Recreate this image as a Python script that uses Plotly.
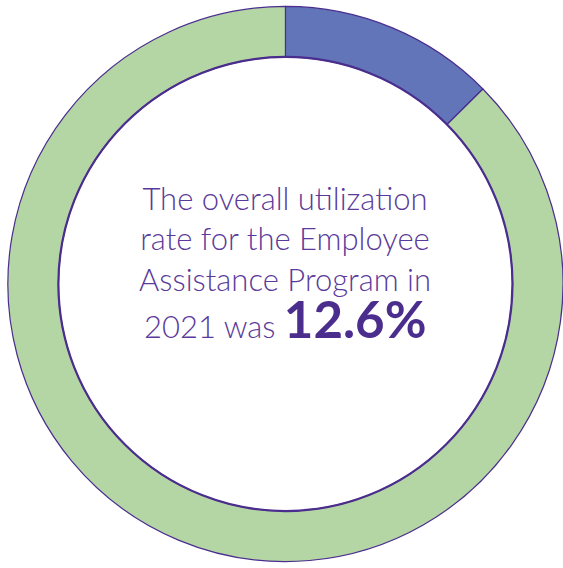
import plotly.graph_objects as go

# Employee Assistance Program utilization, 2021 (percent)
labels = ["Utilized EAP", "Did not utilize EAP"]
utilization_rate = 12.6
values = [utilization_rate, round(100 - utilization_rate, 1)]
colors = ["#6175B8", "#B4D5A4"]
center_lines = [
    "The overall utilization",
    "rate for the Employee",
    "Assistance Program in",
    "2021 was",
]

W, H = 563, 568
outline = "#4B2D8E"
text_color = "#5A3A9A"

dom_x = [0.014, 1.0]
dom_y = [0.0, 1.0]
hole = 0.818

fig = go.Figure(
    go.Pie(
        labels=labels,
        values=values,
        hole=hole,
        sort=False,
        direction="clockwise",
        rotation=0,
        marker=dict(colors=colors, line=dict(color=outline, width=1.2)),
        textinfo="none",
        hoverinfo="label+percent",
        showlegend=False,
        domain=dict(x=dom_x, y=dom_y),
    )
)

# heavier ring around the hole, derived from the pie's own geometry
w_px = (dom_x[1] - dom_x[0]) * W
h_px = (dom_y[1] - dom_y[0]) * H
r_out = min(w_px, h_px) / 2
cx = (dom_x[0] + dom_x[1]) / 2 * W
cy = (1 - (dom_y[0] + dom_y[1]) / 2) * H
r_in = r_out * hole
fig.add_shape(
    type="circle", xref="paper", yref="paper",
    x0=(cx - r_in) / W, x1=(cx + r_in) / W,
    y0=1 - (cy + r_in) / H, y1=1 - (cy - r_in) / H,
    line=dict(color=outline, width=2.2), layer="above",
)

body_font = dict(family="Lato", size=31, color=text_color, weight=300)

# descriptive sentence, then the headline figure on its own line
fig.add_annotation(
    text="<br>".join(center_lines[:-1]),
    x=cx / W, y=1 - 238 / H, xref="paper", yref="paper",
    showarrow=False, xanchor="center", yanchor="middle", align="center",
    font=body_font,
)
big = f"<b><span style='font-size:51px;color:#4B2D8E'>{utilization_rate}%</span></b>"
fig.add_annotation(
    text=f"{center_lines[-1]} {big}",
    x=cx / W, y=1 - 318 / H, xref="paper", yref="paper",
    showarrow=False, xanchor="center", yanchor="middle", align="center",
    font=body_font,
)

fig.update_layout(
    width=W, height=H,
    margin=dict(l=0, r=0, t=0, b=0),
    paper_bgcolor="white", plot_bgcolor="white",
)

fig.write_html("out.html")
